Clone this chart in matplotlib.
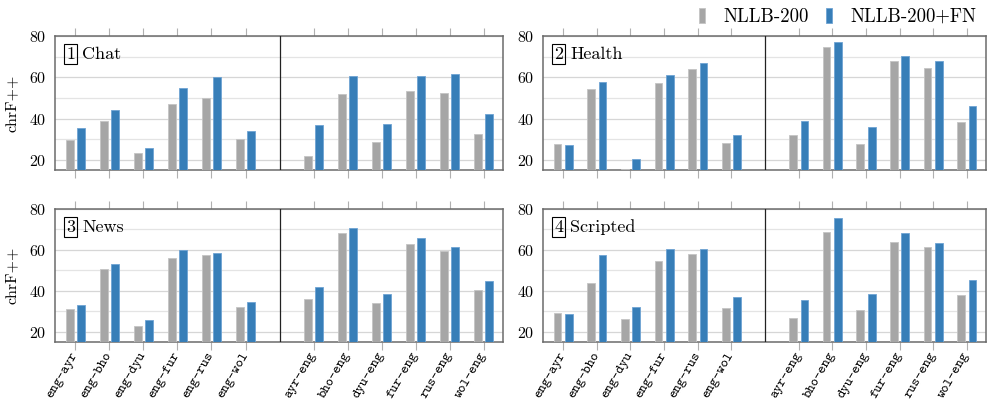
import numpy as np
import matplotlib.pyplot as plt
from matplotlib.ticker import MultipleLocator

plt.rcParams['axes.formatter.use_mathtext'] = True

# data
pairs = ["eng-ayr", "eng-bho", "eng-dyu", "eng-fur", "eng-rus", "eng-wol",
         "ayr-eng", "bho-eng", "dyu-eng", "fur-eng", "rus-eng", "wol-eng"]
domains = ["Chat", "Health", "News", "Scripted"]

chat_nllb = [29.6, 38.9, 23.1, 46.8, 50.1, 30.2, 21.6, 52.0, 28.6, 53.3, 52.5, 32.7]
chat_fn = [35.3, 44.1, 25.7, 54.8, 60.3, 33.8, 36.7, 60.5, 37.1, 60.7, 61.6, 42.0]

health_nllb = [27.5, 54.3, 15.6, 57.1, 64.1, 28.3, 32.2, 74.6, 27.5, 68.1, 64.6, 38.5]
health_fn = [27.2, 57.9, 20.3, 61.3, 67.0, 32.0, 38.9, 77.2, 35.8, 70.1, 68.0, 45.9]

news_nllb = [31.2, 50.9, 22.9, 55.9, 57.4, 31.9, 36.1, 68.0, 34.1, 62.8, 59.5, 40.5]
news_fn = [33.3, 53.0, 25.9, 59.8, 58.7, 34.5, 41.8, 70.7, 38.5, 65.9, 61.5, 45.0]

scripted_nllb = [29.1, 43.9, 26.3, 54.6, 58.0, 31.7, 26.8, 68.8, 30.6, 63.7, 61.5, 37.9]
scripted_fn = [28.8, 57.4, 32.0, 60.5, 60.5, 37.2, 35.3, 75.8, 38.4, 68.3, 63.4, 45.4]

nllb_scores = [chat_nllb, health_nllb, news_nllb, scripted_nllb]
fn_scores = [chat_fn, health_fn, news_fn, scripted_fn]

gray = "#a6a6a6"
blue = "#377eb8"

# two groups of six with a gap at 7
xpos = np.r_[1:7, 8:14]

fig = plt.figure(figsize=(9.88, 4.01), dpi=100)
boxes = [
    (0.0557, 0.576, 0.4534, 0.334),
    (0.5496, 0.576, 0.4484, 0.334),
    (0.0557, 0.147, 0.4534, 0.332),
    (0.5496, 0.147, 0.4484, 0.332),
]

handles = None
for k, (box, name) in enumerate(zip(boxes, domains)):
    ax = fig.add_axes(box)
    b1 = ax.bar(xpos - 0.17, nllb_scores[k], width=0.23, color=gray,
                edgecolor="#c4c4c4", linewidth=0.6, zorder=3)
    b2 = ax.bar(xpos + 0.17, fn_scores[k], width=0.23, color=blue,
                edgecolor="#6ea3d3", linewidth=0.6, zorder=3)
    if handles is None:
        handles = [b1, b2]

    ax.set_xlim(0.4, 13.57)
    ax.set_ylim(15, 80)
    ax.yaxis.set_major_locator(MultipleLocator(20))
    ax.yaxis.set_minor_locator(MultipleLocator(10))
    ax.grid(axis="y", which="major", color="#d6d6d6", linewidth=0.9, zorder=0)
    ax.grid(axis="y", which="minor", color="#e4e4e4", linewidth=0.9, zorder=0)
    ax.set_axisbelow(True)
    ax.axvline(7, color="#222222", linewidth=0.9, zorder=4)

    for s in ax.spines.values():
        s.set_color("#6b6b6b")
        s.set_linewidth(1.1)

    ax.set_xticks(xpos)
    ax.tick_params(axis="x", which="both", direction="out", length=6,
                   color="#b0b0b0", width=0.8, top=True, pad=2)
    ax.tick_params(axis="y", which="both", length=0, pad=6)
    for lab in ax.get_yticklabels():
        lab.set_family("cmr10")
        lab.set_fontsize(11.5)

    if k >= 2:
        ax.set_xticklabels(pairs, rotation=60, ha="right", va="center",
                           rotation_mode="anchor", family="cmtt10", fontsize=10)
    else:
        ax.set_xticklabels([])

    if k % 2 == 0:
        ax.set_ylabel("chrF++", family="cmr10", fontsize=11.5, labelpad=8)

    num = ax.annotate(str(k + 1), xy=(0.025, 0.83), xycoords="axes fraction",
                      family="cmr10", fontsize=13,
                      bbox=dict(boxstyle="square,pad=0.12", fc="none",
                                ec="black", lw=0.8))
    ax.annotate(name, xy=(1, 0), xycoords=num, xytext=(5, 0),
                textcoords="offset points", va="bottom",
                family="cmr10", fontsize=13)

fig.legend(handles, ["NLLB-200", "NLLB-200+FN"], loc="center right",
           bbox_to_anchor=(1.0, 0.958), ncol=2, frameon=False,
           prop={"family": "cmr10", "size": 13.5},
           handlelength=0.33, handleheight=0.85, handletextpad=1.0,
           columnspacing=0.9, borderaxespad=0.2)

fig.savefig("out.png", dpi=100)
